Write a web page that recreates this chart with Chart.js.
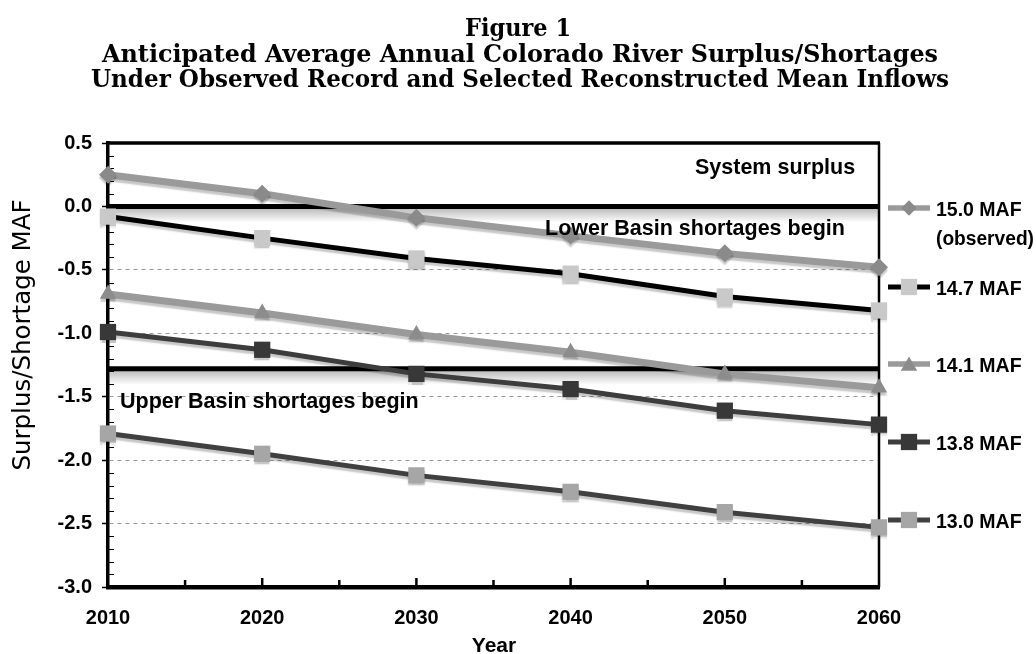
<!DOCTYPE html>
<html><head><meta charset="utf-8">
<script src="https://cdn.jsdelivr.net/npm/chart.js@4.4.1/dist/chart.umd.min.js"></script>
<style>html,body{margin:0;padding:0;background:#fff;}#wrap{width:1036px;height:654px;position:relative;}canvas{display:block;}</style>
</head><body><div id="wrap"><canvas id="c" width="1036" height="654"></canvas></div>
<script>
// ---- data ----
const years = [2010, 2020, 2030, 2040, 2050, 2060];
const seriesNames = ['15.0 MAF', '14.7 MAF', '14.1 MAF', '13.8 MAF', '13.0 MAF'];
const flow150 = [0.25, 0.10, -0.09, -0.23, -0.37, -0.48];
const flow147 = [-0.08, -0.25, -0.41, -0.53, -0.71, -0.82];
const flow141 = [-0.69, -0.84, -1.01, -1.15, -1.32, -1.43];
const flow138 = [-0.99, -1.13, -1.32, -1.44, -1.61, -1.72];
const flow130 = [-1.79, -1.95, -2.12, -2.25, -2.41, -2.53];
const yTicks = [0.5, 0.0, -0.5, -1.0, -1.5, -2.0, -2.5, -3.0];
const xTicks = [2010, 2020, 2030, 2040, 2050, 2060];
const lowerBasinLevel = 0.0;
const upperBasinLevel = -1.28;
const titleLines = ['Figure 1', 'Anticipated Average Annual Colorado River Surplus/Shortages', 'Under Observed Record and Selected Reconstructed Mean Inflows'];
const annotations = ['System surplus', 'Lower Basin shortages begin', 'Upper Basin shortages begin'];

const SANS = '"Liberation Sans", Arial, sans-serif';

function mk(label, vals, line, lw, fill, style, r) {
  return {
    label, data: years.map((x, i) => ({x, y: vals[i]})),
    borderColor: line, borderWidth: lw, backgroundColor: fill,
    pointBackgroundColor: fill, pointBorderWidth: 0, pointStyle: style,
    pointRadius: r, pointHoverRadius: r, tension: 0, clip: false, fill: false
  };
}

const datasets = [
  mk(seriesNames[0], flow150, '#9a9a9a', 7, '#8a8a8a', 'rectRot', 9),
  mk(seriesNames[1], flow147, '#000000', 5, '#c9c9c9', 'rect', 11.5),
  mk(seriesNames[2], flow141, '#9a9a9a', 7, '#8c8c8c', 'triangle', 9.5),
  mk(seriesNames[3], flow138, '#3d3d3d', 5, '#383838', 'rect', 11.5),
  mk(seriesNames[4], flow130, '#404040', 5, '#a6a6a6', 'rect', 11.5)
];

function marker(ctx, style, x, y, r) {
  ctx.beginPath();
  if (style === 'rect') {
    const s = Math.SQRT1_2 * r; ctx.rect(x - s, y - s, 2 * s, 2 * s);
  } else if (style === 'rectRot') {
    ctx.moveTo(x, y - r); ctx.lineTo(x + r, y); ctx.lineTo(x, y + r); ctx.lineTo(x - r, y); ctx.closePath();
  } else {
    ctx.moveTo(x, y - r);
    ctx.lineTo(x + Math.sin(2 * Math.PI / 3) * r, y + r / 2);
    ctx.lineTo(x - Math.sin(2 * Math.PI / 3) * r, y + r / 2);
    ctx.closePath();
  }
  ctx.fill();
}

const deco = {
  id: 'deco',
  beforeDatasetsDraw(chart) {
    const {ctx, chartArea: a, scales: {x, y}} = chart;
    ctx.save();
    ctx.strokeStyle = '#000'; ctx.lineWidth = 1;
    for (let k = -30; k <= 5; k++) {
      if (k % 5 === 0) continue;
      const py = Math.round(y.getPixelForValue(k / 10)) + 0.5;
      ctx.beginPath(); ctx.moveTo(a.left, py); ctx.lineTo(a.left + 6, py); ctx.stroke();
    }
    ctx.lineWidth = 2.5;
    for (let v = 2015; v < 2060; v += 5) {
      const px = x.getPixelForValue(v);
      const len = (v % 10 === 0) ? 9 : 7;
      ctx.beginPath(); ctx.moveTo(px, a.bottom); ctx.lineTo(px, a.bottom - len); ctx.stroke();
    }
    [lowerBasinLevel, upperBasinLevel].forEach(v => {
      const py = y.getPixelForValue(v);
      const g = ctx.createLinearGradient(0, py, 0, py + 16);
      g.addColorStop(0, 'rgba(0,0,0,0.30)');
      g.addColorStop(1, 'rgba(0,0,0,0)');
      ctx.fillStyle = g;
      ctx.fillRect(a.left + 2, py, a.right - a.left - 3, 16);
      ctx.strokeStyle = '#000'; ctx.lineWidth = 5;
      ctx.beginPath(); ctx.moveTo(a.left, py); ctx.lineTo(a.right, py); ctx.stroke();
    });
    ctx.strokeStyle = '#000';
    ctx.lineWidth = 3.5;
    ctx.beginPath(); ctx.moveTo(a.left - 1, a.top); ctx.lineTo(a.right + 1, a.top); ctx.stroke();
    ctx.lineWidth = 2.5;
    ctx.beginPath(); ctx.moveTo(a.right, a.top); ctx.lineTo(a.right, a.bottom); ctx.stroke();
    ctx.restore();
  },
  beforeDatasetDraw(chart) {
    const ctx = chart.ctx;
    ctx.save();
    ctx.shadowColor = 'rgba(0,0,0,0.22)';
    ctx.shadowOffsetX = 0; ctx.shadowOffsetY = 3; ctx.shadowBlur = 1.5;
  },
  afterDatasetDraw(chart) { chart.ctx.restore(); },
  afterDatasetsDraw(chart) {
    const {ctx} = chart;
    ctx.save();
    ctx.fillStyle = '#000';
    ctx.textBaseline = 'alphabetic'; ctx.textAlign = 'left';
    ctx.font = 'bold 21.5px ' + SANS;
    ctx.fillText(annotations[0], 695, 174);
    ctx.fillText(annotations[1], 545, 235);
    ctx.fillText(annotations[2], 120, 408);
    const legY = [208, 287, 364, 442, 520];
    chart.data.datasets.forEach((d, i) => {
      const ly = legY[i];
      ctx.strokeStyle = d.borderColor; ctx.lineWidth = Math.min(d.borderWidth, 5.5);
      ctx.beginPath(); ctx.moveTo(888, ly); ctx.lineTo(930, ly); ctx.stroke();
      ctx.fillStyle = d.pointBackgroundColor;
      marker(ctx, d.pointStyle, 909, ly + (d.pointStyle === 'triangle' ? 2 : 0), d.pointRadius * (d.pointStyle === 'rectRot' ? 0.85 : 1));
      ctx.fillStyle = '#000';
      ctx.font = 'bold 19.5px ' + SANS;
      ctx.textBaseline = 'middle';
      ctx.fillText(d.label, 936, ly + 3, 86);
      if (i === 0) ctx.fillText('(observed)', 936, ly + 32, 98);
    });
    ctx.restore();
  },
  afterDraw(chart) {
    const {ctx} = chart;
    ctx.save();
    ctx.fillStyle = '#000';
    ctx.textAlign = 'center'; ctx.textBaseline = 'alphabetic';
    ctx.font = 'bold 25px "DejaVu Serif", serif';
    ctx.fillText(titleLines[0], 518, 36, 106);
    ctx.fillText(titleLines[1], 520, 62, 836);
    ctx.fillText(titleLines[2], 520, 87, 858);
    ctx.font = 'bold 21px ' + SANS;
    ctx.fillText('Year', 494, 652);
    ctx.translate(30, 335);
    ctx.rotate(-Math.PI / 2);
    ctx.font = '24.5px "DejaVu Sans", sans-serif';
    ctx.fillText('Surplus/Shortage MAF', 0, 0);
    ctx.restore();
  }
};

new Chart(document.getElementById('c'), {
  type: 'line',
  data: {datasets},
  plugins: [deco],
  options: {
    responsive: false, animation: false, devicePixelRatio: 1,
    layout: {padding: {top: 143, right: 157, left: 0, bottom: 0}},
    plugins: {legend: {display: false}, tooltip: {enabled: false}, title: {display: false}},
    scales: {
      x: {
        type: 'linear', min: 2010, max: 2060,
        afterBuildTicks: s => { s.ticks = xTicks.map(v => ({value: v})); },
        afterFit: s => { s.height = 67; },
        grid: {display: false, drawTicks: false},
        border: {display: true, color: '#000', width: 4.5},
        ticks: {padding: 19, color: '#000', autoSkip: false, maxRotation: 0,
          font: {family: SANS, weight: 'bold', size: 20}, callback: v => String(v)}
      },
      y: {
        min: -3, max: 0.5,
        afterBuildTicks: s => { s.ticks = yTicks.map(v => ({value: v})); },
        afterFit: s => { s.width = 108; },
        grid: {
          color: c => (c.tick && c.tick.value < -0.01 && c.tick.value > -2.99) ? '#9a9a9a' : 'rgba(0,0,0,0)',
          lineWidth: 1, drawTicks: true, tickLength: 6, tickColor: '#000', tickWidth: 1.5
        },
        border: {display: true, color: '#000', width: 3.5, dash: [4, 4]},
        ticks: {padding: 10, color: '#000', font: {family: SANS, weight: 'bold', size: 20},
          callback: v => Number(v).toFixed(1)}
      }
    }
  }
});
</script>
</body></html>
